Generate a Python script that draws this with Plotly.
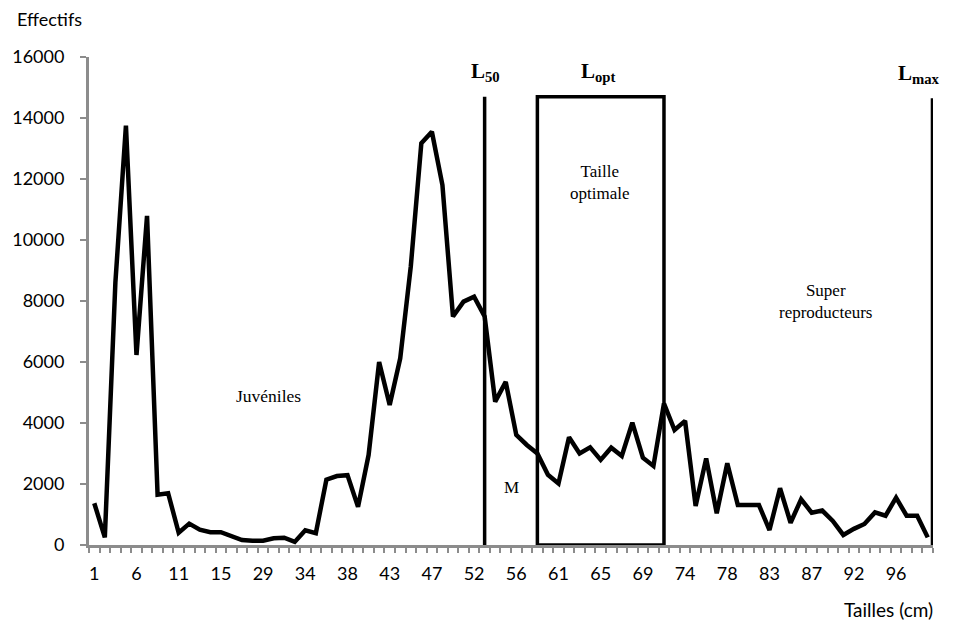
import plotly.graph_objects as go

# category positions (80 size classes) and their shown tick labels
classes = list(range(1, 81))
tick_positions = list(range(1, 81, 4))
tick_labels = ["1", "6", "11", "15", "29", "34", "38", "43", "47", "52",
               "56", "61", "65", "69", "74", "78", "83", "87", "92", "96"]

effectifs = [1370, 250, 8600, 13750, 6230, 10790, 1650, 1700, 400, 700,
             500, 420, 420, 300, 160, 140, 140, 220, 240, 100,
             480, 390, 2140, 2260, 2290, 1250, 2950, 6000, 4590, 6120,
             9130, 13170, 13550, 11800, 7490, 7980, 8140, 7490, 4700, 5350,
             3610, 3280, 3000, 2300, 2020, 3530, 3000, 3200, 2790, 3190,
             2920, 4010, 2860, 2590, 4640, 3770, 4070, 1280, 2840, 1040,
             2680, 1310, 1310, 1310, 490, 1860, 730, 1500, 1060, 1130,
             790, 330, 530, 690, 1070, 960, 1550, 960, 960, 250]

GRAY = "#8c8c8c"
SANS = "Lato"
SERIF = "Liberation Serif"

fig = go.Figure()
fig.add_trace(go.Scatter(x=classes, y=effectifs, mode="lines",
                         line=dict(color="black", width=4.5),
                         hoverinfo="skip", cliponaxis=False))

shapes = [
    dict(type="line", x0=38, x1=38, y0=0, y1=14700,
         line=dict(color="black", width=3.5)),
    dict(type="rect", x0=43, x1=55, y0=0, y1=14700,
         line=dict(color="black", width=3.5)),
    dict(type="line", x0=80.45, x1=80.45, y0=-160, y1=14650,
         line=dict(color="black", width=3.5)),
]

annotations = [
    dict(text="Effectifs", xref="paper", yref="paper", x=-0.088, y=1.078,
         xanchor="left", yanchor="middle", showarrow=False,
         font=dict(family=SANS, size=18, color="black")),
    dict(text="Tailles (cm)", xref="paper", yref="paper", x=1.0024, y=-0.133,
         xanchor="right", yanchor="middle", showarrow=False,
         font=dict(family=SANS, size=19, color="black")),
    dict(text="Juvéniles", x=17.5, y=4900, showarrow=False,
         font=dict(family=SERIF, size=17.5, color="black")),
    dict(text="M", x=40.5, y=1900, showarrow=False,
         font=dict(family=SERIF, size=17, color="black")),
    dict(text="Taille<br>optimale", x=48.85, y=11900, showarrow=False,
         font=dict(family=SERIF, size=17, color="black")),
    dict(text="Super<br>reproducteurs", x=70.3, y=8000, showarrow=False,
         font=dict(family=SERIF, size=17, color="black")),
    dict(text="<b>L<sub>50</sub></b>", x=38.1, y=15500, showarrow=False,
         font=dict(family=SERIF, size=21, color="black")),
    dict(text="<b>L<sub>opt</sub></b>", x=48.8, y=15500, showarrow=False,
         font=dict(family=SERIF, size=21, color="black")),
    dict(text="<b>L<sub>max</sub></b>", x=79.2, y=15450, showarrow=False,
         font=dict(family=SERIF, size=21, color="black")),
]

fig.update_layout(
    width=962, height=622,
    margin=dict(l=89, r=29, t=57, b=77),
    plot_bgcolor="white", paper_bgcolor="white",
    showlegend=False,
    shapes=shapes,
    annotations=annotations,
    xaxis=dict(range=[0.5, 80.5], tickmode="array", tickvals=tick_positions,
               ticktext=tick_labels, ticks="", showline=True,
               linecolor=GRAY, linewidth=3, showgrid=False, zeroline=False,
               tickfont=dict(family=SANS, size=18, color="black"),
               ticklabelstandoff=10,
               minor=dict(tickmode="array",
                          tickvals=[0.5 + k for k in range(81)],
                          ticks="outside", ticklen=5, tickwidth=2,
                          tickcolor=GRAY, showgrid=False)),
    yaxis=dict(range=[0, 16000], dtick=2000, tick0=0, ticks="outside",
               tickformat="d",
               ticklen=6, tickwidth=2, tickcolor=GRAY, showline=True,
               linecolor=GRAY, linewidth=3, showgrid=False, zeroline=False,
               tickfont=dict(family=SANS, size=18, color="black"),
               ticklabelstandoff=12),
)

fig.write_html("out.html", config={"displayModeBar": False},
               post_script="document.body.style.margin='0';"
                           "document.body.style.overflow='hidden';")
